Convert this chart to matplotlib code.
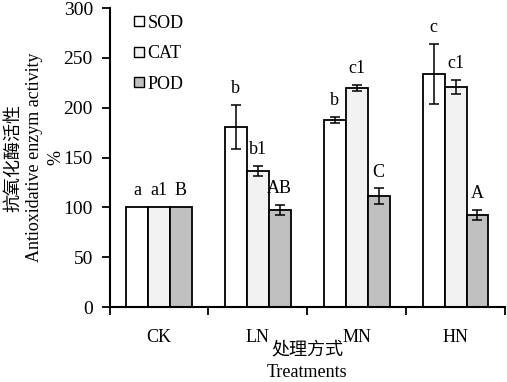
"""Antioxidant enzyme activity by treatment: grouped bars with error bars."""

import numpy as np
import matplotlib
matplotlib.use('Agg')
import matplotlib.pyplot as plt
from matplotlib.lines import Line2D

treatments = ['CK', 'LN', 'MN', 'HN']
enzymes = ['SOD', 'CAT', 'POD']

sod = [100, 181, 188, 234]
sod_err = [0, 22, 3, 30]
cat = [100, 137, 220, 221]
cat_err = [0, 5, 3, 7]
pod = [100, 97, 111, 92]
pod_err = [0, 5, 8, 5]

sod_letters = ['a', 'b', 'b', 'c']
cat_letters = ['a1', 'b1', 'c1', 'c1']
pod_letters = ['B', 'AB', 'C', 'A']

colors = ['white', '#f2f2f2', '#c0c0c0']

SERIF = ['Liberation Serif', 'Noto Sans CJK SC']
plt.rcParams['font.family'] = SERIF

fig = plt.figure(figsize=(5.07, 3.82), dpi=100)
ax = fig.add_axes([0.216, 0.196, 0.78, 0.783])

x = np.arange(len(treatments))
width = 0.222
series = [(sod, sod_err, sod_letters), (cat, cat_err, cat_letters),
          (pod, pod_err, pod_letters)]

for i, (vals, errs, letters) in enumerate(series):
    pos = x + (i - 1) * width
    ax.bar(pos, vals, width, color=colors[i], edgecolor='black',
           linewidth=1.3, zorder=2)
    for p, v, e, lab in zip(pos, vals, errs, letters):
        if e > 0:
            ax.errorbar(p, v, yerr=e, fmt='none', ecolor='black',
                        elinewidth=1.1, capsize=3.5, capthick=1.1, zorder=3)
        ax.text(p, v + e + 8, lab, ha='center', va='bottom', fontsize=13)

ax.set_xlim(-0.5, 3.5)
ax.set_ylim(0, 300)
ax.set_yticks(np.arange(0, 301, 50))
ax.set_xticks(np.arange(-0.5, 4, 1))
ax.set_xticklabels([])
ax.set_xticks(x, minor=True)
ax.set_xticklabels(treatments, minor=True)
ax.tick_params(axis='x', which='minor', length=0, pad=16, labelsize=13)
ax.tick_params(axis='x', which='major', length=6, width=1.3, direction='out')
ax.tick_params(axis='y', length=6, width=1.3, direction='out', labelsize=14, pad=6)

for side in ['top', 'right']:
    ax.spines[side].set_visible(False)
for side in ['left', 'bottom']:
    ax.spines[side].set_linewidth(1.5)

ax.set_ylabel('抗氧化酶活性\nAntioxidative enzym activity\n%', fontsize=13,
              linespacing=1.3)
ax.yaxis.set_label_coords(-0.115, 0.5)
ax.set_xlabel('处理方式\nTreatments', fontsize=13, linespacing=1.45)
ax.xaxis.set_label_coords(0.5, -0.115)

handles = [Line2D([], [], marker='s', linestyle='none', markersize=7,
                  markerfacecolor=c, markeredgecolor='black',
                  markeredgewidth=1.0) for c in colors]
ax.legend(handles, enzymes, loc='upper left', bbox_to_anchor=(0.03, 1.02),
          frameon=False, fontsize=13, labelspacing=0.75, handlelength=0.5,
          handletextpad=0.25, borderpad=0.2)

fig.savefig('out.png', dpi=100)
